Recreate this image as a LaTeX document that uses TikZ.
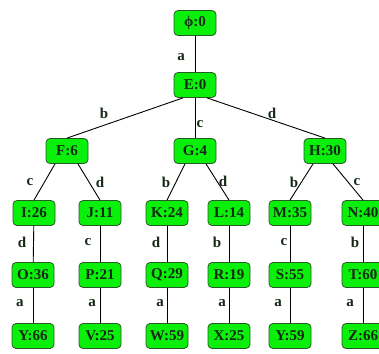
\documentclass[tikz,border=0pt]{standalone}
\usepackage{fontspec}
\setmainfont{Liberation Serif}
\definecolor{boxfill}{RGB}{10,240,10}
\definecolor{boxline}{RGB}{40,90,40}
\definecolor{txt}{RGB}{20,40,20}
\tikzset{
  st/.style={draw=boxline, line width=0.8pt, fill=boxfill, rounded corners=4pt,
    minimum width=42pt, minimum height=25pt, inner xsep=3pt, inner ysep=0pt,
    font=\bfseries\fontsize{15}{15}\selectfont, text=txt},
  lbl/.style={font=\bfseries\fontsize{15}{15}\selectfont, text=txt, inner sep=0pt},
  edge/.style={line width=0.9pt, draw=black}
}
\begin{document}
\begin{tikzpicture}[x=1pt,y=-1pt]
\useasboundingbox (0,0) rectangle (379,353);
% nodes
\node[st] (phi) at (195,23) {ϕ:0};
\node[st] (E) at (195,85) {E:0};
\node[st] (F) at (67,151) {F:6};
\node[st] (G) at (195,151) {G:4};
\node[st] (H) at (325,151) {H:30};
\node[st] (I) at (34,213) {I:26};
\node[st] (J) at (100,213) {J:11};
\node[st] (K) at (167,213) {K:24};
\node[st] (L) at (229,213) {L:14};
\node[st] (M) at (290,213) {M:35};
\node[st] (N) at (363,213) {N:40};
\node[st] (O) at (33,275) {O:36};
\node[st] (P) at (100,275) {P:21};
\node[st] (Q) at (167,275) {Q:29};
\node[st] (R) at (229,275) {R:19};
\node[st] (S) at (290,275) {S:55};
\node[st] (T) at (363,275) {T:60};
\node[st] (Y1) at (33,336) {Y:66};
\node[st] (V) at (100,336) {V:25};
\node[st] (W) at (167,336) {W:59};
\node[st] (X) at (229,336) {X:25};
\node[st] (Y2) at (290,336) {Y:59};
\node[st] (Z) at (363,336) {Z:66};
% edges
\draw[edge] (phi) -- (E);
\draw[edge] ([xshift=-12pt]E.south) -- (F.north);
\draw[edge] (E) -- (G);
\draw[edge] ([xshift=12pt]E.south) -- (H.north);
\draw[edge] ([xshift=-12pt]F.south) -- (I.north);
\draw[edge] ([xshift=11pt]F.south) -- (J.north);
\draw[edge] ([xshift=-10pt]G.south) -- (K.north);
\draw[edge] ([xshift=11pt]G.south) -- (L.north);
\draw[edge] ([xshift=-12pt]H.south) -- (M.north);
\draw[edge] ([xshift=8pt]H.south) -- (N.north);
\draw[edge] (I) -- (O);
\draw[edge] (J) -- (P);
\draw[edge] (K) -- (Q);
\draw[edge] (L) -- (R);
\draw[edge] (M) -- (S);
\draw[edge] (N) -- (T);
\draw[edge] (O) -- (Y1);
\draw[edge] (P) -- (V);
\draw[edge] (Q) -- (W);
\draw[edge] (R) -- (X);
\draw[edge] (S) -- (Y2);
\draw[edge] (T) -- (Z);
% labels
\node[lbl] (l1) at (181,57) {a};
\node[lbl] (l2) at (104,113) {b};
\node[lbl] (l3) at (200,124) {c};
\node[lbl] (l4) at (272,113) {d};
\node[lbl] (l5) at (30,182) {c};
\node[lbl] (l6) at (100,182) {d};
\node[lbl] (l7) at (166,182) {b};
\node[lbl] (l8) at (223,181) {d};
\node[lbl] (l9) at (294,182) {b};
\node[lbl] (l10) at (357,182) {c};
\node[lbl] (l11) at (22,242) {d};
\node[lbl] (l12) at (88,242) {c};
\node[lbl] (l13) at (156,242) {d};
\node[lbl] (l14) at (217,242) {b};
\node[lbl] (l15) at (284,242) {c};
\node[lbl] (l16) at (355,242) {b};
\node[lbl] (l17) at (20,303) {a};
\node[lbl] (l18) at (92,303) {a};
\node[lbl] (l19) at (160,303) {a};
\node[lbl] (l20) at (222,303) {a};
\node[lbl] (l21) at (278,303) {a};
\node[lbl] (l22) at (350,303) {a};
\end{tikzpicture}
\end{document}
